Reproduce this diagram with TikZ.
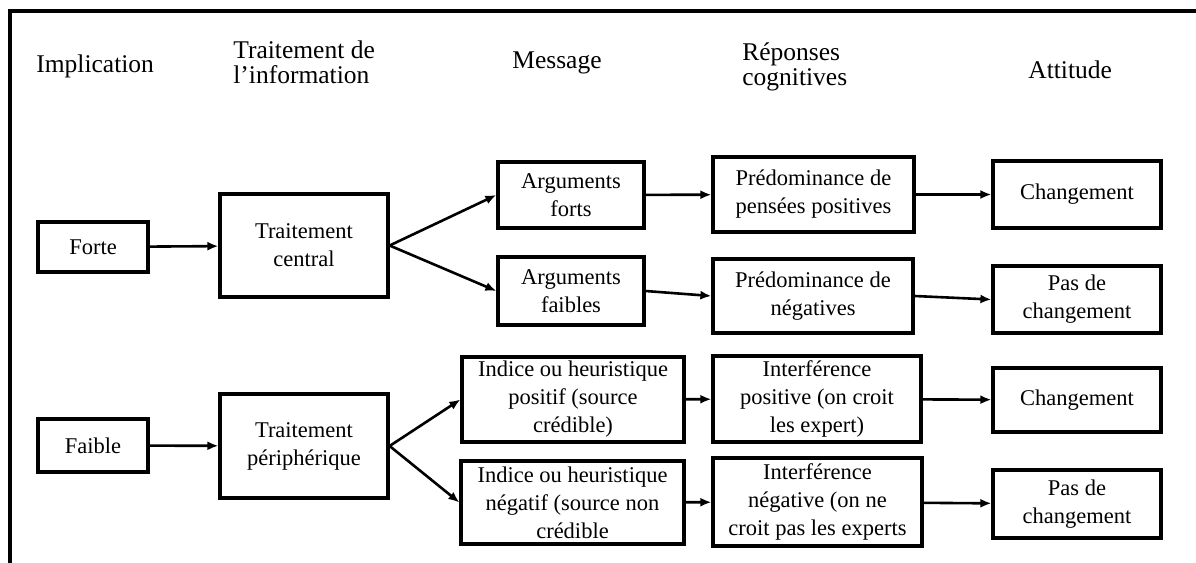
\documentclass[tikz,border=0pt]{standalone}
\usepackage{fontspec}
\setmainfont{Liberation Serif}
\usetikzlibrary{arrows.meta}

\begin{document}
\begin{tikzpicture}[x=0.5pt, y=-0.5pt, >={Latex[length=5.5pt,width=4.5pt]},
	box/.style={draw, line width=1.6pt, inner sep=0pt, align=center, font=\fontsize{11.25}{14}\selectfont},
	hdr/.style={anchor=base west, inner sep=0pt, align=left, font=\fontsize{12.75}{12.5}\selectfont},
	link/.style={->, line width=1.3pt}]
	\useasboundingbox (0,0) rectangle (1196,563);
	% cadre
	\draw[line width=1.6pt] (10,563) -- (10,11) -- (1196,11);
	% titres des colonnes
	\node[hdr] (himp) at (36,72) {Implication};
	\node[hdr] (htrait) at (233,83) {Traitement de\\l’information};
	\node[hdr] (hmsg) at (512,68) {Message};
	\node[hdr] (hrep) at (742,85) {Réponses\\cognitives};
	\node[hdr] (hatt) at (1028,78) {Attitude};
	% boites
	\node[box, minimum width=55pt, minimum height=25pt] (forte) at (93,247) {Forte};
	\node[box, minimum width=55pt, minimum height=26.5pt] (faible) at (93,445.5) {Faible};
	\node[box, minimum width=84pt, minimum height=51.5pt] (central) at (304,245.5) {Traitement\\central};
	\node[box, minimum width=84pt, minimum height=52pt] (periph) at (304,446) {Traitement\\périphérique};
	\node[box, minimum width=73pt, minimum height=33pt] (argforts) at (571,195) {Arguments\\forts};
	\node[box, minimum width=73pt, minimum height=34pt] (argfaibles) at (571,291) {Arguments\\faibles};
	\node[box, minimum width=111pt, minimum height=42.5pt] (indpos) at (573,399.5) {Indice ou heuristique\\positif (source\\crédible)};
	\node[box, minimum width=111.5pt, minimum height=41.5pt] (indneg) at (572.5,502.5) {Indice ou heuristique\\négatif (source non\\crédible};
	\node[box, minimum width=100.5pt, minimum height=37.5pt] (predpos) at (813.5,194.5) {Prédominance de\\pensées positives};
	\node[box, minimum width=100pt, minimum height=37pt] (predneg) at (813,296) {Prédominance de\\négatives};
	\node[box, minimum width=104pt, minimum height=43pt] (interpos) at (817,399) {Interférence\\positive (on croit\\les expert)};
	\node[box, minimum width=104.5pt, minimum height=44pt] (interneg) at (817.5,502) {Interférence\\négative (on ne\\croit pas les experts};
	\node[box, minimum width=84pt, minimum height=33.5pt] (chgA) at (1077,194.5) {Changement};
	\node[box, minimum width=84pt, minimum height=33.5pt] (paschA) at (1077,299.5) {Pas de\\changement};
	\node[box, minimum width=84pt, minimum height=32pt] (chgB) at (1077,400) {Changement};
	\node[box, minimum width=84pt, minimum height=34pt] (paschB) at (1077,504) {Pas de\\changement};
	% fleches
	\draw[link] (forte) -- (central);
	\draw[link] (faible) -- (periph);
	\draw[link] (central.east) -- (argforts.west);
	\draw[link] (central.east) -- (argfaibles.west);
	\draw[link] (periph.east) -- (indpos.west);
	\draw[link] (periph.east) -- (indneg.west);
	\draw[link] (argforts) -- (predpos);
	\draw[link] (argfaibles.east) -- (predneg.west);
	\draw[link] (indpos) -- (interpos);
	\draw[link] (indneg) -- (interneg);
	\draw[link] (predpos.east) -- (chgA.west);
	\draw[link] (predneg.east) -- (paschA.west);
	\draw[link] (interpos) -- (chgB);
	\draw[link] (interneg) -- (paschB);
\end{tikzpicture}
\end{document}
